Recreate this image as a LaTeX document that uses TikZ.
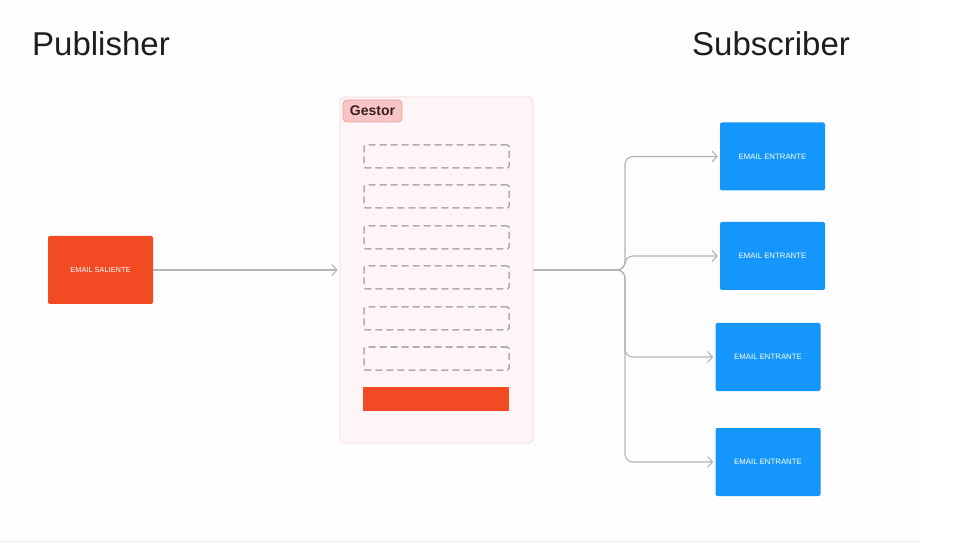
\documentclass[tikz,border=0pt]{standalone}
\usepackage{fontspec}
\setmainfont{Liberation Sans}
\usetikzlibrary{arrows.meta}
\definecolor{orangeR}{HTML}{F24A22}
\definecolor{blueB}{HTML}{1496FA}
\definecolor{connG}{HTML}{B4B4B4}
\definecolor{gestFill}{HTML}{FEF6F6}
\definecolor{gestLine}{HTML}{F2D8DA}
\definecolor{tagFill}{HTML}{F8C4C4}
\definecolor{tagLine}{HTML}{E8A2A2}
\definecolor{dashG}{HTML}{B5ADAD}
\definecolor{titleC}{HTML}{1E1E1E}
\definecolor{tagText}{HTML}{3A1E1E}
\definecolor{pageBg}{HTML}{FEFDFD}
\tikzset{
  title/.style={anchor=base west, inner sep=0pt, text=titleC, font=\fontsize{33}{38}\selectfont},
  srcbox/.style={fill=orangeR, rounded corners=2pt, minimum width=105pt, minimum height=68pt, inner sep=0pt, text=white, font=\fontsize{7.4}{9}\selectfont},
  subbox/.style={fill=blueB, rounded corners=2pt, minimum width=105pt, minimum height=68pt, inner sep=0pt, text=white, font=\fontsize{7.8}{9}\selectfont},
  gestbox/.style={fill=gestFill, draw=gestLine, line width=0.8pt, rounded corners=5pt, minimum width=193pt, minimum height=346pt, inner sep=0pt},
  tagbox/.style={fill=tagFill, draw=tagLine, line width=0.8pt, rounded corners=4pt, minimum width=59pt, minimum height=22pt, inner sep=0pt, text=tagText, font=\bfseries\fontsize{14}{16}\selectfont},
  slotbox/.style={draw=dashG, line width=1.5pt, dash pattern=on 7pt off 4pt, rounded corners=1.5pt, minimum width=145pt, minimum height=23pt, inner sep=0pt},
  barbox/.style={fill=orangeR, minimum width=146pt, minimum height=24pt, inner sep=0pt},
  conn/.style={draw=connG, line width=1.1pt, rounded corners=8pt, -{Straight Barb[length=5pt,width=11pt,line width=1.1pt]}, shorten >=2pt}
}
\begin{document}
\begin{tikzpicture}[x=1pt,y=-1pt]
\useasboundingbox (0,0) rectangle (980,545);
\fill[white] (0,0) rectangle (980,545);
\fill[pageBg] (0,0) rectangle (920,540);
\draw[black!8, line width=1pt] (0,541) -- (920,541);

\node[title] (pub) at (32,56) {Publisher};
\node[title] (sub) at (692,56) {Subscriber};

\node[srcbox] (src) at (100.5,270) {EMAIL SALIENTE};

\node[gestbox] (gestor) at (436.5,270) {};
\node[tagbox] (tag) at (372.5,111) {Gestor};
\node[slotbox] (s1) at (436.5,156.5) {};
\node[slotbox] (s2) at (436.5,196.5) {};
\node[slotbox] (s3) at (436.5,237.5) {};
\node[slotbox] (s4) at (436.5,277.5) {};
\node[slotbox] (s5) at (436.5,318.5) {};
\node[slotbox] (s6) at (436.5,358.5) {};
\node[barbox] (bar) at (436,399) {};

\node[subbox] (b1) at (772.5,156.5) {EMAIL ENTRANTE};
\node[subbox] (b2) at (772.5,256) {EMAIL ENTRANTE};
\node[subbox] (b3) at (768,357) {EMAIL ENTRANTE};
\node[subbox] (b4) at (768,462) {EMAIL ENTRANTE};

\draw[conn] (src.east) -- (gestor.west);

\coordinate (fork) at (625,270);
\draw[conn] (gestor.east) -- (fork) |- (b1.west);
\draw[conn] (gestor.east) -- (fork) |- (b2.west);
\draw[conn] (gestor.east) -- (fork) |- (b3.west);
\draw[conn] (gestor.east) -- (fork) |- (b4.west);
\end{tikzpicture}
\end{document}
